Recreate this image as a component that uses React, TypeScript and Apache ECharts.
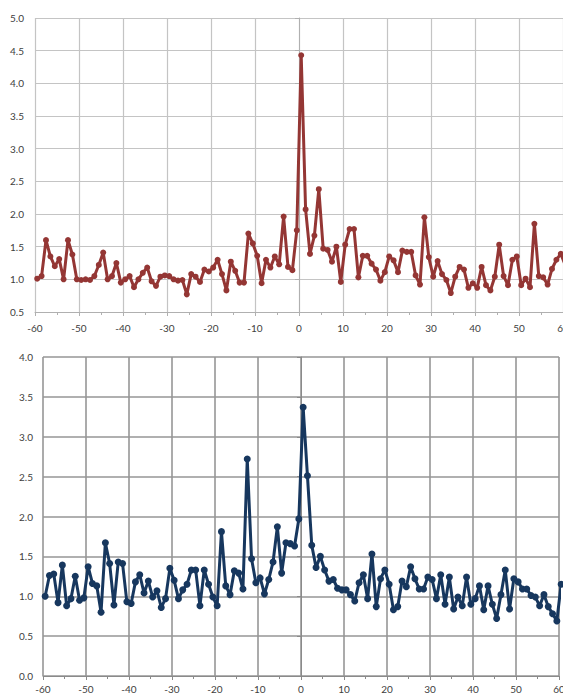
import React, { useEffect, useRef } from "react";
import * as echarts from "echarts";

// Lag positions: points sit half-way between integer lags, from -59.5 to 60.5
const LAGS: number[] = Array.from({ length: 121 }, (_, i) => i - 59.5);

// Upper panel (maroon trace)
const UPPER_VALUES: number[] = [
  1.01, 1.05, 1.6, 1.35, 1.2, 1.31, 1.0, 1.6, 1.38, 1.0,
  0.99, 1.0, 0.99, 1.05, 1.22, 1.41, 1.0, 1.05, 1.25, 0.95,
  1.0, 1.05, 0.88, 1.0, 1.1, 1.18, 0.97, 0.9, 1.04, 1.06,
  1.05, 1.0, 0.98, 0.99, 0.77, 1.08, 1.04, 0.96, 1.15, 1.12,
  1.18, 1.3, 1.08, 0.83, 1.27, 1.13, 0.95, 0.95, 1.7, 1.55,
  1.36, 0.94, 1.3, 1.18, 1.35, 1.23, 1.96, 1.19, 1.14, 1.75,
  4.43, 2.07, 1.39, 1.67, 2.38, 1.47, 1.45, 1.27, 1.5, 0.96,
  1.53, 1.77, 1.77, 1.03, 1.36, 1.36, 1.24, 1.15, 0.98, 1.11,
  1.35, 1.29, 1.11, 1.44, 1.42, 1.42, 1.06, 0.92, 1.95, 1.34,
  1.04, 1.28, 1.08, 0.99, 0.79, 1.04, 1.19, 1.15, 0.87, 0.94,
  0.87, 1.19, 0.91, 0.83, 1.04, 1.53, 1.05, 0.91, 1.3, 1.35,
  0.91, 1.01, 0.88, 1.85, 1.05, 1.03, 0.92, 1.16, 1.3, 1.39,
  1.22,
];

// Lower panel (navy trace)
const LOWER_VALUES: number[] = [
  1.0, 1.26, 1.28, 0.92, 1.39, 0.88, 0.97, 1.25, 0.95, 0.98,
  1.37, 1.16, 1.13, 0.8, 1.67, 1.41, 0.89, 1.43, 1.41, 0.93,
  0.91, 1.18, 1.27, 1.04, 1.19, 0.99, 1.07, 0.86, 0.97, 1.35,
  1.2, 0.97, 1.08, 1.15, 1.33, 1.33, 0.88, 1.33, 1.15, 0.99,
  0.88, 1.81, 1.13, 1.02, 1.32, 1.29, 1.09, 2.72, 1.47, 1.17,
  1.23, 1.03, 1.21, 1.43, 1.87, 1.29, 1.67, 1.66, 1.63, 1.97,
  3.37, 2.51, 1.64, 1.36, 1.5, 1.33, 1.19, 1.21, 1.1, 1.08,
  1.08, 1.02, 0.94, 1.17, 1.27, 0.97, 1.53, 0.87, 1.22, 1.33,
  1.15, 0.83, 0.87, 1.19, 1.12, 1.37, 1.22, 1.09, 1.09, 1.24,
  1.21, 0.97, 1.27, 0.9, 1.24, 0.84, 0.99, 0.88, 1.24, 0.9,
  0.97, 1.13, 0.83, 1.13, 0.9, 0.72, 1.02, 1.33, 0.84, 1.22,
  1.18, 1.09, 1.09, 1.01, 0.99, 0.88, 1.02, 0.87, 0.78, 0.69,
  1.15,
];

const X_MIN = -60;
const X_MAX = 60;
const X_STEP = 10;
const UPPER_Y = { min: 0.5, max: 5.0, step: 0.5 };
const LOWER_Y = { min: 0, max: 4.0, step: 0.5 };

const FONT = "Lato, 'Open Sans', sans-serif";
const LABEL_COLOR = "#404040";

function xAxisFor(
  gridIndex: number,
  gridColor: string,
  gridWidth: number,
  axisColor: string,
  labelMargin: number
) {
  return {
    type: "value" as const,
    gridIndex,
    min: X_MIN,
    max: X_MAX,
    interval: X_STEP,
    axisLine: { show: true, lineStyle: { color: axisColor, width: 1 } },
    axisTick: { show: true, length: 4, lineStyle: { color: axisColor } },
    minorTick: { show: true, splitNumber: 2, length: 3, lineStyle: { color: axisColor } },
    splitLine: { show: true, lineStyle: { color: gridColor, width: gridWidth } },
    axisLabel: {
      margin: labelMargin,
      fontSize: 10,
      lineHeight: 10,
      fontFamily: FONT,
      color: LABEL_COLOR,
      showMinLabel: true,
      showMaxLabel: true,
    },
  };
}

function yAxisFor(
  gridIndex: number,
  range: { min: number; max: number; step: number },
  gridColor: string,
  gridWidth: number,
  axisColor: string,
  margin: number
) {
  return {
    type: "value" as const,
    gridIndex,
    min: range.min,
    max: range.max,
    interval: range.step,
    axisLine: { show: true, lineStyle: { color: axisColor, width: 1 } },
    axisTick: { show: true, length: 4, lineStyle: { color: axisColor } },
    splitLine: { show: true, lineStyle: { color: gridColor, width: gridWidth } },
    axisLabel: {
      margin,
      fontSize: 10,
      fontFamily: FONT,
      color: LABEL_COLOR,
      formatter: (v: number) => v.toFixed(1),
    },
  };
}

export default function App() {
  const ref = useRef<HTMLDivElement>(null);

  useEffect(() => {
    if (!ref.current) return;
    const chart = echarts.init(ref.current, null, { renderer: "svg" });

    const upperData = LAGS.map((x, i) => [x, UPPER_VALUES[i]]);
    const lowerData = LAGS.map((x, i) => [x, LOWER_VALUES[i]]);

    chart.setOption({
      animation: false,
      backgroundColor: "#ffffff",
      grid: [
        { left: 35, top: 18, width: 528, height: 294, outerBoundsMode: "none", containLabel: false },
        { left: 43, top: 357, width: 516, height: 319, outerBoundsMode: "none", containLabel: false },
      ],
      xAxis: [
        xAxisFor(0, "#c4c4c4", 1.2, "#b0b0b0", 11),
        xAxisFor(1, "#969696", 1.6, "#8a8a8a", 8),
      ],
      yAxis: [
        yAxisFor(0, UPPER_Y, "#c4c4c4", 1.2, "#b0b0b0", 11),
        yAxisFor(1, LOWER_Y, "#969696", 1.6, "#8a8a8a", 10),
      ],
      series: [
        {
          type: "line",
          xAxisIndex: 0,
          yAxisIndex: 0,
          data: upperData,
          symbol: "circle",
          symbolSize: 6,
          showAllSymbol: true,
          lineStyle: { color: "#943634", width: 3 },
          itemStyle: { color: "#943634" },
          clip: true,
        },
        {
          type: "line",
          xAxisIndex: 1,
          yAxisIndex: 1,
          data: lowerData,
          symbol: "circle",
          symbolSize: 7,
          showAllSymbol: true,
          lineStyle: { color: "#17375e", width: 3 },
          itemStyle: { color: "#17375e" },
          clip: false,
        },
      ],
    });

    return () => chart.dispose();
  }, []);

  return (
    <div
      ref={ref}
      style={{ position: "absolute", left: 0, top: 0, width: 563, height: 695 }}
    />
  );
}
